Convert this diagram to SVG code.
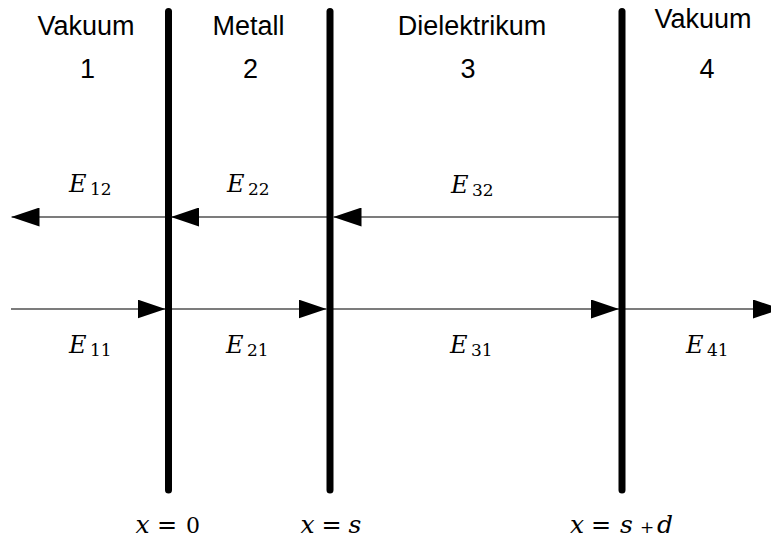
<svg xmlns="http://www.w3.org/2000/svg" width="771" height="539" viewBox="0 0 771 539">
<style>
.hd{font-family:"Liberation Sans",Arial,sans-serif;font-size:27px;fill:#000;text-anchor:middle}
.m{font-family:"DejaVu Serif",serif;font-style:italic;font-size:24px;fill:#000}
.mb{font-family:"DejaVu Serif",serif;font-style:italic;font-size:25px;fill:#000}
.sub{font-style:normal;font-size:17px}
.up{font-style:normal;font-size:22px}
.eq{font-style:normal;font-size:24px}
.pl{font-style:normal;font-size:17px}
.wire{stroke:#505050;stroke-width:1.3;fill:none;marker-end:url(#ah)}
.bar{stroke:#000;stroke-width:7;stroke-linecap:round}
</style>
<defs>
<marker id="ah" markerUnits="userSpaceOnUse" markerWidth="28" markerHeight="19" viewBox="0 0 28 19" refX="28" refY="9.5" orient="auto">
<path d="M0,0 L28,9.5 L0,19 Z" fill="#000"/>
</marker>
</defs>
<rect width="771" height="539" fill="#fff"/>
<g id="connectors">
<line class="wire" x1="620" y1="217" x2="333.5" y2="217"/>
<line class="wire" x1="330" y1="217" x2="171" y2="217"/>
<line class="wire" x1="168" y1="217" x2="11.5" y2="217"/>
<line class="wire" x1="11" y1="309" x2="165.5" y2="309"/>
<line class="wire" x1="168" y1="309" x2="326.5" y2="309"/>
<line class="wire" x1="330" y1="309" x2="619" y2="309"/>
<line class="wire" x1="622" y1="309" x2="781" y2="309"/>
</g>
<g id="boundary-x0"><line class="bar" x1="168.5" y1="11.5" x2="168.5" y2="490"/>
<text class="mb" y="533"><tspan x="135.5">x</tspan><tspan class="eq" x="157">=</tspan><tspan class="up" x="186">0</tspan></text></g>
<g id="boundary-xs"><line class="bar" x1="330" y1="11.5" x2="330" y2="490"/>
<text class="mb" y="533"><tspan x="300.5">x</tspan><tspan class="eq" x="321.5">=</tspan><tspan x="348.5">s</tspan></text></g>
<g id="boundary-xsd"><line class="bar" x1="622" y1="11.5" x2="622" y2="490"/>
<text class="mb" y="533"><tspan x="570">x</tspan><tspan class="eq" x="591">=</tspan><tspan x="620">s</tspan><tspan class="pl" x="640">+</tspan><tspan x="657">d</tspan></text></g>
<g id="region1"><text class="hd" x="86" y="35">Vakuum</text><text class="hd" x="87.5" y="78">1</text></g>
<g id="region2"><text class="hd" x="248.5" y="35">Metall</text><text class="hd" x="250.5" y="78">2</text></g>
<g id="region3"><text class="hd" x="472" y="35">Dielektrikum</text><text class="hd" x="468" y="78">3</text></g>
<g id="region4"><text class="hd" x="703" y="28">Vakuum</text><text class="hd" x="707" y="78">4</text></g>
<g id="E12"><text class="m" x="69" y="192">E<tspan class="sub" x="90" y="195">12</tspan></text></g>
<g id="E22"><text class="m" x="227" y="192">E<tspan class="sub" x="248" y="195">22</tspan></text></g>
<g id="E32"><text class="m" x="451" y="193">E<tspan class="sub" x="472" y="196">32</tspan></text></g>
<g id="E11"><text class="m" x="69" y="353">E<tspan class="sub" x="90" y="356">11</tspan></text></g>
<g id="E21"><text class="m" x="226" y="353">E<tspan class="sub" x="247" y="356">21</tspan></text></g>
<g id="E31"><text class="m" x="450" y="353">E<tspan class="sub" x="471" y="356">31</tspan></text></g>
<g id="E41"><text class="m" x="686" y="353">E<tspan class="sub" x="707" y="356">41</tspan></text></g>
</svg>
